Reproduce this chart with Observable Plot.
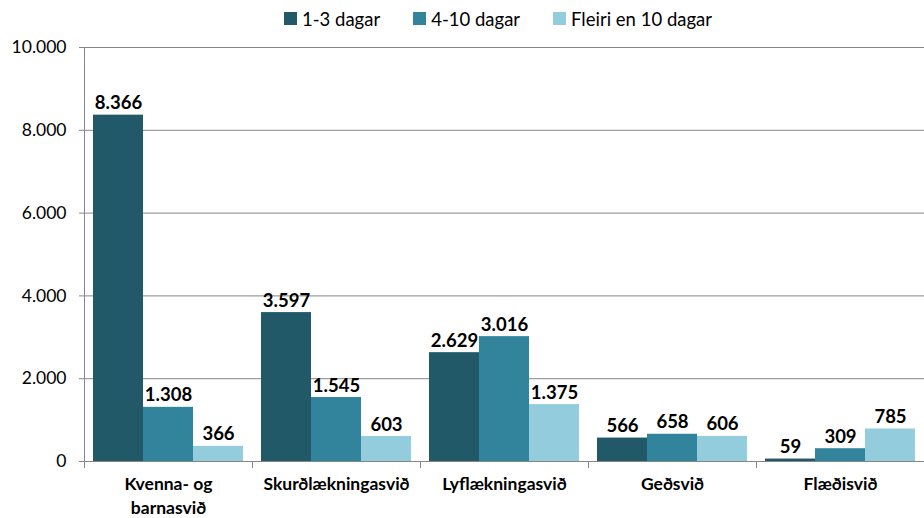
<!DOCTYPE html>
<html>
<head>
<meta charset="utf-8">
<script src="https://cdn.jsdelivr.net/npm/d3@7"></script>
<script src="https://cdn.jsdelivr.net/npm/@observablehq/plot@0.6"></script>
<style>
  body { margin: 0; background: #fff; font-family: Lato, "Liberation Sans", sans-serif; }
  #wrap { width: 924px; }
  #legend { height: 34px; padding-top: 3px; display: flex; align-items: center; justify-content: flex-start; padding-left: 284px; box-sizing: border-box; font-size: 18.5px; color: #000; }
  .item { display: flex; align-items: center; margin-right: 33px; }
  .sw { width: 13px; height: 13px; margin-right: 5px; }
</style>
</head>
<body>
<div id="wrap">
  <div id="legend"></div>
  <div id="chart"></div>
</div>
<script>
const categories = ["Kvenna- og barnasvið", "Skurðlækningasvið", "Lyflækningasvið", "Geðsvið", "Flæðisvið"];
const categoryLabels = ["Kvenna- og\nbarnasvið", "Skurðlækningasvið", "Lyflækningasvið", "Geðsvið", "Flæðisvið"];
const series = ["1-3 dagar", "4-10 dagar", "Fleiri en 10 dagar"];
const colors = ["#215968", "#31849B", "#93CDDD"];
const vals13 = [8366, 3597, 2629, 566, 59];
const vals410 = [1308, 1545, 3016, 658, 309];
const vals10plus = [366, 603, 1375, 606, 785];
const yTicks = [0, 2000, 4000, 6000, 8000, 10000];

const seriesValues = [vals13, vals410, vals10plus];
const data = [];
categories.forEach((c, i) => series.forEach((s, j) => data.push({category: c, series: s, value: seriesValues[j][i]})));

const locale = d3.formatLocale({decimal: ",", thousands: ".", grouping: [3], currency: ["", ""]});
const fmt = locale.format(",d");

// legend
const legend = document.getElementById("legend");
series.forEach((s, j) => {
  const it = document.createElement("div"); it.className = "item";
  const sw = document.createElement("div"); sw.className = "sw"; sw.style.background = colors[j];
  const tx = document.createElement("span"); tx.textContent = s;
  it.appendChild(sw); it.appendChild(tx); legend.appendChild(it);
});

const width = 924, height = 484, marginTop = 13, marginBottom = 57;
const plotH = height - marginTop - marginBottom;
const gray = "#868686";

const chart = Plot.plot({
  width, height, marginTop, marginBottom, marginLeft: 83, marginRight: 0,
  style: {fontFamily: "Lato, 'Liberation Sans', sans-serif", color: "#000", background: "#fff"},
  fx: {domain: categories, padding: 0, axis: null, label: null},
  x: {domain: series, paddingInner: 0, paddingOuter: 0.166, axis: null, label: null},
  y: {domain: [0, 10000], axis: null, label: null},
  color: {domain: series, range: colors},
  marks: [
    Plot.gridY(yTicks, {stroke: gray, strokeOpacity: 1, strokeWidth: 1}),
    Plot.barY(data, {fx: "category", x: "series", y: "value", fill: "series"}),
    Plot.ruleY([0], {stroke: gray, strokeWidth: 1}),
    Plot.frame({anchor: "left", stroke: gray, facetAnchor: "left"}),
    Plot.frame({anchor: "left", stroke: gray, insetTop: plotH, insetBottom: -6}),
    Plot.axisY({ticks: yTicks, tickFormat: fmt, tickSize: 5, tickPadding: 13, fontSize: 17.5, stroke: gray, color: "#000", label: null}),
    Plot.axisFx({anchor: "bottom", tickSize: 0, tickPadding: 12, fontSize: 17.5, fontWeight: "bold", lineHeight: 1.35, label: null,
      tickFormat: d => categoryLabels[categories.indexOf(d)]}),
    Plot.text(data, {fx: "category", x: "series", y: "value", text: d => fmt(d.value), lineAnchor: "bottom", dy: -6,
      fontSize: 18.5, fontWeight: "bold", fill: "#000"})
  ]
});
document.getElementById("chart").appendChild(chart);
</script>
</body>
</html>
